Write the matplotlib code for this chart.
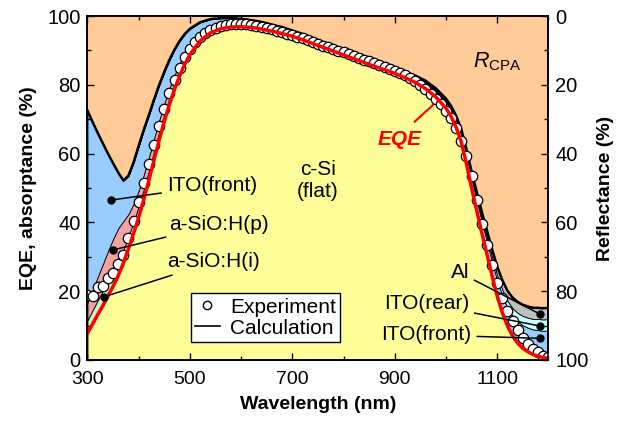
import matplotlib
matplotlib.use('Agg')
import matplotlib.pyplot as plt
from matplotlib.lines import Line2D
from matplotlib.ticker import MultipleLocator

plt.rcParams['font.family'] = ['Liberation Sans', 'DejaVu Sans']
plt.rcParams['mathtext.fontset'] = 'custom'
plt.rcParams['mathtext.rm'] = 'Liberation Sans'
plt.rcParams['mathtext.it'] = 'Liberation Sans:italic'

# calculation grid (nm)
wl = [300, 310, 320, 330, 340, 350, 360, 370, 380, 390, 400, 410, 420, 430, 440,
      450, 460, 470, 480, 490, 500,
      520, 540, 560, 580, 600, 620, 640, 660, 680, 700, 720, 740, 760, 780,
      800, 820, 840, 860, 880, 900, 920, 940, 960, 980,
      1000, 1010, 1020, 1030, 1040, 1050, 1060, 1070, 1080, 1090, 1100,
      1110, 1120, 1130, 1140, 1150, 1160, 1170, 1180, 1190, 1200]

# absorptance of each layer (%), calculated
c_si = [7.8, 10.5, 13.2, 15.8, 18.6, 21.4, 24.5, 28.2, 32.3, 36.8, 41.5, 46.7, 52.3, 58.2, 64.0,
        69.4, 74.3, 78.7, 82.6, 86.0, 88.8,
        92.8, 95.1, 96.3, 96.8, 96.9, 96.7, 96.2, 95.6, 94.9, 94.1, 93.1, 92.0, 90.9, 89.8,
        88.7, 87.6, 86.5, 85.4, 84.4, 83.3, 82.1, 80.7, 78.9, 76.5,
        73.2, 70.8, 67.6, 63.3, 57.0, 50.0, 43.5, 37.0, 30.8, 24.5, 18.6,
        13.8, 9.9, 7.0, 4.9, 3.4, 2.4, 1.6, 1.1, 0.7, 0.5]
asio_i = [3.8, 4.0, 4.2, 4.3, 4.3, 4.2, 4.0, 3.8, 3.6, 3.4, 3.2, 3.0, 2.8, 2.6, 2.4,
          2.2, 2.0, 1.8, 1.6, 1.5, 1.4,
          1.2, 1.0, 0.9, 0.8, 0.7, 0.6, 0.6, 0.5, 0.5, 0.4, 0.4, 0.4, 0.3, 0.3,
          0.3, 0.3, 0.2, 0.2, 0.2, 0.2, 0.2, 0.1, 0.1, 0.1,
          0.1, 0.1, 0.1, 0, 0, 0, 0, 0, 0, 0, 0,
          0, 0, 0, 0, 0, 0, 0, 0, 0, 0]
asio_p = [5.0, 5.8, 6.8, 7.8, 8.8, 9.6, 9.8, 8.4, 6.5, 5.3, 4.6, 4.2, 3.9, 3.6, 3.3,
          3.0, 2.7, 2.4, 2.1, 1.9, 1.7,
          1.4, 1.2, 1.0, 0.9, 0.8, 0.7, 0.7, 0.6, 0.6, 0.5, 0.5, 0.4, 0.4, 0.4,
          0.3, 0.3, 0.3, 0.3, 0.2, 0.2, 0.2, 0.2, 0.2, 0.1,
          0.1, 0.1, 0.1, 0.1, 0.1, 0, 0, 0, 0, 0, 0,
          0, 0, 0, 0, 0, 0, 0, 0, 0, 0]
ito_front = [55.9, 48.9, 41.8, 35.1, 28.3, 22.0, 16.2, 11.8, 11.2, 12.0, 13.0, 13.1, 12.3, 11.4, 10.3,
             9.2, 8.3, 7.4, 6.5, 5.4, 4.4,
             2.8, 1.8, 1.2, 0.9, 0.8, 0.8, 0.8, 0.8, 0.8, 0.8, 0.8, 0.8, 0.8, 0.8,
             0.8, 0.8, 0.8, 0.8, 0.9, 0.9, 1.0, 1.2, 1.4, 1.5,
             1.6, 1.7, 1.9, 2.1, 2.4, 2.7, 3.0, 3.3, 3.7, 4.1, 4.5,
             4.9, 5.3, 5.8, 6.3, 6.7, 7.0, 7.3, 7.6, 7.8, 8.0]
ito_rear = [0, 0, 0, 0, 0, 0, 0, 0, 0, 0, 0, 0, 0, 0, 0,
            0, 0, 0, 0, 0, 0,
            0, 0, 0, 0, 0, 0, 0, 0, 0, 0, 0, 0, 0, 0,
            0, 0, 0.1, 0.1, 0.1, 0.1, 0.1, 0.2, 0.2, 0.3,
            0.4, 0.45, 0.5, 0.6, 0.7, 0.8, 0.9, 1.05, 1.2, 1.4, 1.6,
            1.8, 2.0, 2.25, 2.5, 2.7, 2.9, 3.05, 3.2, 3.3, 3.4]
al = [0, 0, 0, 0, 0, 0, 0, 0, 0, 0, 0, 0, 0, 0, 0,
      0, 0, 0, 0, 0, 0,
      0, 0, 0, 0, 0, 0, 0, 0, 0, 0, 0, 0, 0, 0,
      0, 0.1, 0.1, 0.1, 0.2, 0.2, 0.2, 0.3, 0.4, 0.5,
      0.6, 0.7, 0.8, 0.95, 1.1, 1.3, 1.5, 1.75, 2.0, 2.25, 2.5,
      2.75, 2.95, 3.1, 3.2, 3.25, 3.25, 3.25, 3.25, 3.25, 3.25]

# measured EQE (%)
wl_exp = list(range(300, 1201, 10))
eqe_exp = [18.9, 18.5, 21.2, 21.5, 23.8, 25.4, 27.8, 30.5, 35.5, 40.5,
           46.0, 51.5, 57.0, 62.5, 68.0, 73.0, 77.5, 81.5, 85.0, 88.0,
           90.5, 92.5, 94.0, 95.1, 96.0, 96.6, 97.1, 97.4, 97.6, 97.7,
           97.7, 97.6, 97.4, 97.1, 96.8, 96.5, 96.1, 95.7, 95.3, 94.9,
           94.5, 94.0, 93.5, 93.0, 92.5, 92.0, 91.4, 90.9, 90.4, 89.9,
           89.4, 88.9, 88.4, 87.8, 87.3, 86.8, 86.3, 85.8, 85.3, 84.7,
           84.1, 83.5, 82.8, 82.0, 81.1, 80.0, 78.8, 77.4, 75.9, 74.3,
           72.5, 70.3, 67.5, 63.8, 59.2, 53.5, 46.5, 39.5, 33.5, 27.5,
           22.5, 18.0, 14.3, 11.2, 8.6, 6.4, 4.6, 3.3, 2.2, 1.3,
           0.8]

layer_colors = ['#FFFF99', '#CCF2CC', '#F4A3A3', '#99CCFF', '#CCFFFF', '#C0C0C0']

total = [sum(v) for v in zip(c_si, asio_i, asio_p, ito_front, ito_rear, al)]

fig = plt.figure(figsize=(6.17, 4.21), dpi=100)
ax = fig.add_axes([0.1418, 0.1449, 0.747, 0.817])

ax.stackplot(wl, c_si, asio_i, asio_p, ito_front, ito_rear, al,
             colors=layer_colors, edgecolor='black', linewidth=0.6)
ax.fill_between(wl, total, 100, color='#FFCC99', linewidth=0)
ax.plot(wl, total, color='black', lw=1.8)
ax.plot(wl_exp, eqe_exp, 'o', mfc='white', mec='black', ms=7.5, mew=0.9, zorder=4)
ax.plot(wl, c_si, color='red', lw=2.5, zorder=5)

# layer labels with pointers
def label(text, xy, xytext, ha):
    ax.annotate(text, xy=xy, xytext=xytext, fontsize=15, ha=ha, va='center',
                arrowprops=dict(arrowstyle='-', color='black', lw=1.1,
                                shrinkA=2, shrinkB=0), zorder=6)
    ax.plot(*xy, 'o', color='black', ms=5, zorder=7)

label('ITO(front)', (346, 46.5), (455, 50.6), 'left')
label('a-SiO:H(p)', (350, 32), (459, 39.5), 'left')
label('a-SiO:H(i)', (333, 18.4), (455, 28.5), 'left')
label('Al', (1183, 13.4), (1045, 25.4), 'right')
label('ITO(rear)', (1183, 9.9), (1045, 16.4), 'right')
label('ITO(front)', (1183, 6.3), (1050, 7.3), 'right')

ax.text(750, 52.3, 'c-Si\n(flat)', fontsize=15, ha='center', va='center')
ax.text(910, 64, 'EQE', color='red', fontsize=15, fontweight='bold',
        fontstyle='italic', ha='center', va='center')
ax.plot([939, 978], [69.3, 74.6], color='red', lw=1.5)
ax.text(1100, 86.6, r'$R_{\mathrm{CPA}}$', fontsize=15.5, ha='center', va='center')

handles = [Line2D([], [], ls='none', marker='o', mfc='white', mec='black', ms=6, mew=1),
           Line2D([], [], color='black', lw=1.2)]
leg = ax.legend(handles, ['Experiment', 'Calculation'], loc='lower left',
                bbox_to_anchor=(0.224, 0.053), fontsize=15, fancybox=False,
                edgecolor='black', framealpha=1, handlelength=1.2, handletextpad=0.5,
                borderpad=0.2, labelspacing=0.1, borderaxespad=0)
leg.get_frame().set_linewidth(1.0)

ax.set_xlim(300, 1200)
ax.set_ylim(0, 100)
ax.xaxis.set_major_locator(MultipleLocator(200, offset=100))
ax.xaxis.set_minor_locator(MultipleLocator(100))
ax.yaxis.set_major_locator(MultipleLocator(20))
ax.yaxis.set_minor_locator(MultipleLocator(10))
ax.tick_params(which='both', direction='in', top=True, right=False)
ax.tick_params(which='major', length=5, width=1)
ax.tick_params(which='minor', length=3, width=1)
ax.tick_params(axis='x', labelsize=14, pad=8)
ax.tick_params(axis='y', labelsize=14.5, pad=5)
ax.set_xlabel('Wavelength (nm)', fontsize=14, fontweight='bold')
ax.set_ylabel('EQE, absorptance (%)', fontsize=14, fontweight='bold')
ax.xaxis.set_label_coords(0.5, -0.105)
ax.yaxis.set_label_coords(-0.11, 0.5)

ax2 = ax.twinx()
ax2.set_ylim(100, 0)
ax2.yaxis.set_major_locator(MultipleLocator(20))
ax2.yaxis.set_minor_locator(MultipleLocator(10))
ax2.tick_params(which='both', direction='in', labelsize=14.5, pad=5)
ax2.tick_params(which='major', length=5, width=1)
ax2.tick_params(which='minor', length=3, width=1)
ax2.set_ylabel('Reflectance (%)', fontsize=14, fontweight='bold')
ax2.yaxis.set_label_coords(1.105, 0.5)

for a in (ax, ax2):
    for s in a.spines.values():
        s.set_linewidth(1.2)

fig.savefig('out.png', dpi=100)
